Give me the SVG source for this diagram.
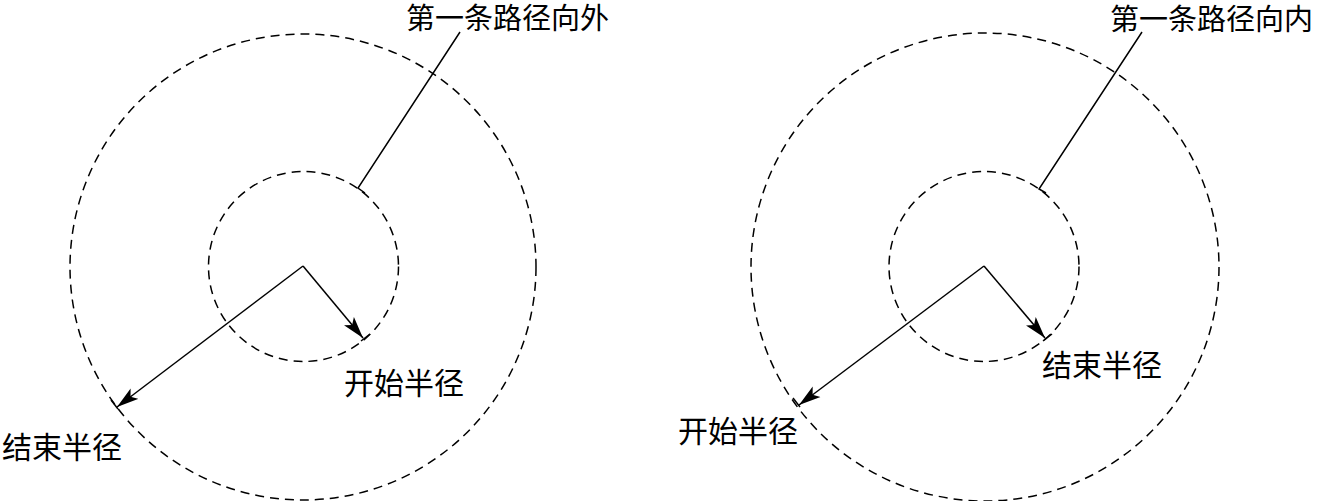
<svg xmlns="http://www.w3.org/2000/svg" width="1325" height="501" viewBox="0 0 1325 501">
<style>
.dash{fill:none;stroke:#000;stroke-width:1.5;stroke-dasharray:9 6}
.ln{fill:none;stroke:#000;stroke-width:1.5}
.arr{fill:none;stroke:#000;stroke-width:1.5;marker-end:url(#ah)}
text{font-family:"Noto Sans CJK SC","Liberation Serif",serif;font-size:30px;fill:#000}
text.top{font-size:29px}
</style>
<defs>
<marker id="ah" markerWidth="24" markerHeight="14" refX="22" refY="7" orient="auto" markerUnits="userSpaceOnUse">
<path d="M0,0.5 L22,7 L0,13.5 L5,7 Z" fill="#000"/>
</marker>
</defs>
<g id="left">
<circle class="dash" cx="303" cy="267" r="233"/>
<circle class="dash" cx="303.5" cy="266.5" r="95"/>
</g>
<g id="right">
<circle class="dash" cx="985" cy="267" r="234"/>
<circle class="dash" cx="984" cy="266.5" r="95"/>
</g>
<g id="connectors">
<path class="arr" d="M303,266 L117,407"/>
<path class="arr" d="M303,266 L363,338"/>
<path class="ln" d="M111,400 L118,409"/>
<path class="ln" d="M361,341 L370,334"/>
<path class="ln" d="M460,32 L358,188 L365,193"/>
<path class="arr" d="M984,266 L799,405"/>
<path class="arr" d="M984,266 L1045,338"/>
<path class="ln" d="M793,398 L800,407"/>
<path class="ln" d="M1043,341 L1052,334"/>
<path class="ln" d="M1142,32 L1039,189 L1046,193"/>
</g>
<g id="labels">
<text class="top" x="406" y="29">第一条路径向外</text>
<text class="top" x="1110" y="30">第一条路径向内</text>
<text x="344" y="394">开始半径</text>
<text x="2" y="458">结束半径</text>
<text x="1042" y="376">结束半径</text>
<text x="678" y="442">开始半径</text>
</g>
</svg>
